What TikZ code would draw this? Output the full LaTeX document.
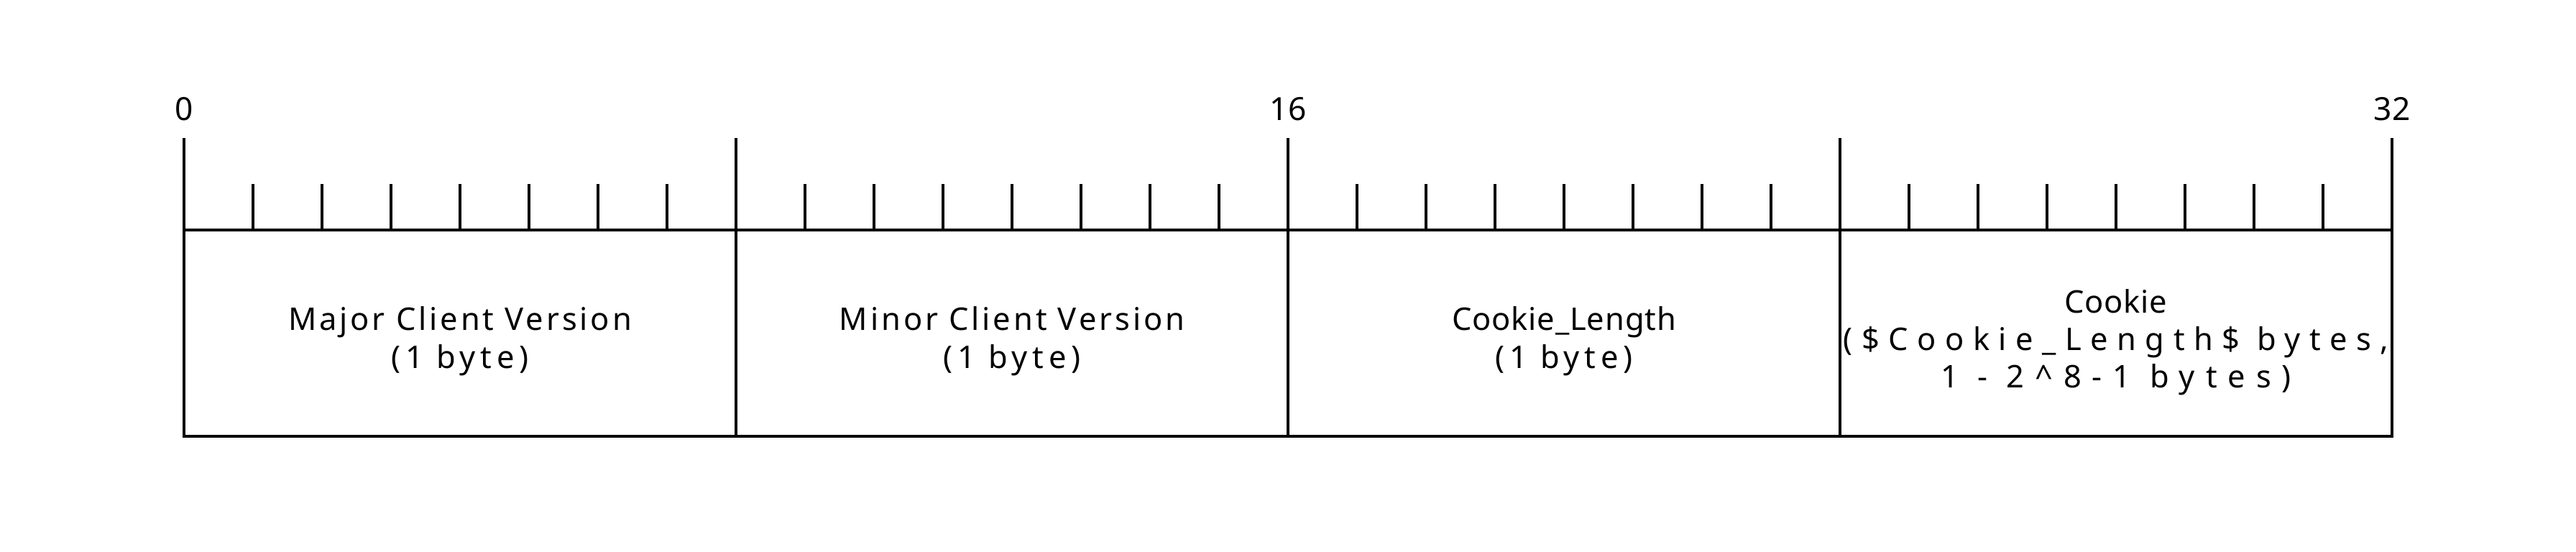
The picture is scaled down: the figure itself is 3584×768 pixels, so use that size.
\documentclass[tikz,border=0pt]{standalone}
\usepackage{fontspec}
\setmainfont{Noto Sans}
\begin{document}
\begin{tikzpicture}[x=0.01cm,y=-0.01cm,line width=1.05pt,
  field/.style={draw,rectangle,minimum width=7.68cm,minimum height=2.87cm,inner sep=0pt},
  txt/.style={anchor=base,inner sep=0pt,
    font=\fontsize{12.35pt}{15pt}\selectfont\addfontfeature{LetterSpace=#1}},
  num/.style={anchor=base,inner sep=0pt,font=\fontsize{12.6pt}{15pt}\selectfont}]
\useasboundingbox (0,0) rectangle (3584,768);
% fields
\node[field] (f1) at (640,463.5) {};
\node[field] (f2) at (1408,463.5) {};
\node[field] (f3) at (2176,463.5) {};
\node[field] (f4) at (2944,463.5) {};
% ruler
\foreach \i in {0,8,16,24,32} \draw (256+96*\i,192) -- (256+96*\i,320);
\foreach \i in {1,...,31} {
  \pgfmathtruncatemacro{\r}{mod(\i,8)}
  \ifnum\r>0 \draw (256+96*\i,256) -- (256+96*\i,320); \fi
}
% bit numbers
\node[num] (n0) at (256,168) {0};
\node[num] (n16) at (1792,168) {16};
\node[num] (n32) at (3328,168) {32};
% labels
\node[txt=9] (t1a) at (640,460) {Major Client Version};
\node[txt=15.5] (t1b) at (640,512.7) {(1 byte)};
\node[txt=9] (t2a) at (1408,460) {Minor Client Version};
\node[txt=15.5] (t2b) at (1408,512.7) {(1 byte)};
\node[txt=2] (t3a) at (2176,460) {Cookie\_Length};
\node[txt=15.5] (t3b) at (2176,512.7) {(1 byte)};
\node[txt=1.6] (t4a) at (2944,435.7) {Cookie};
\node[txt=28.8] (t4b) at (2944,487.3) {(\$Cookie\_Length\$ bytes,};
\node[txt=34.5] (t4c) at (2944,540) {1 - 2\^{}8-1 bytes)};
\end{tikzpicture}
\end{document}
